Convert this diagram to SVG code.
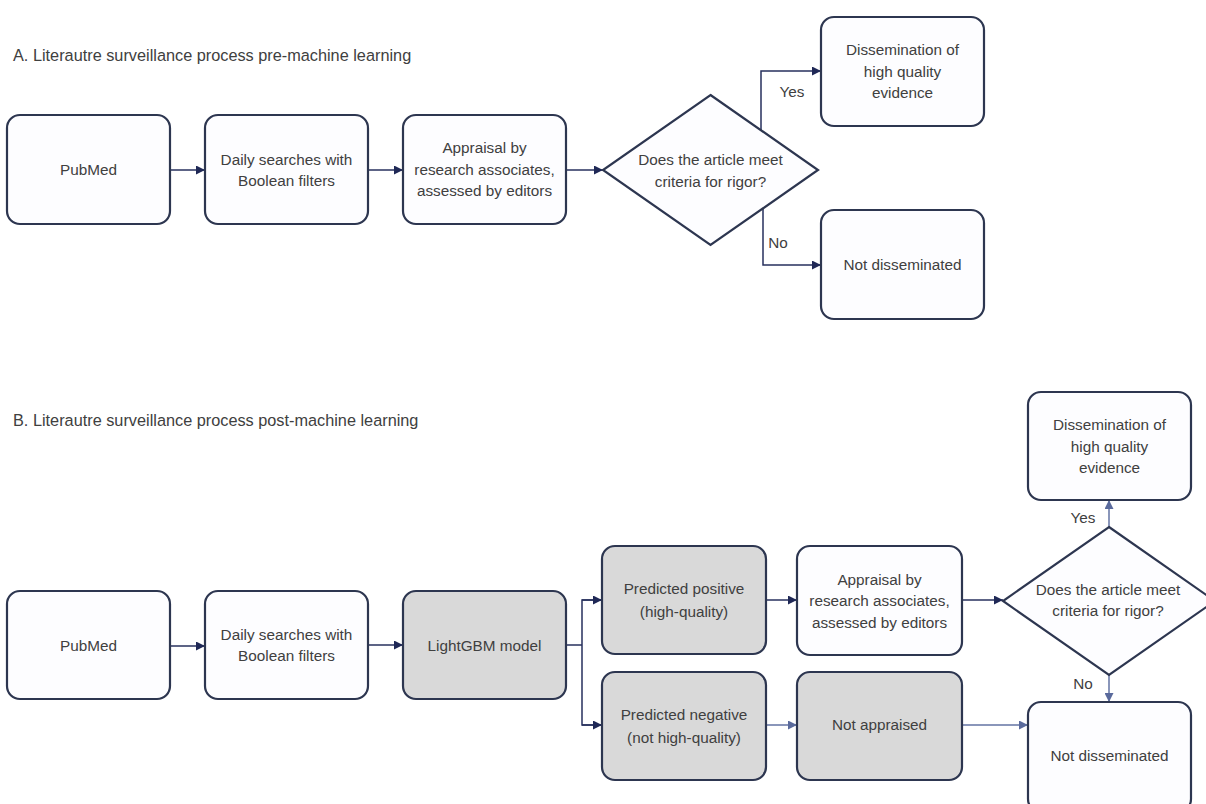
<svg xmlns="http://www.w3.org/2000/svg" width="1206" height="804" viewBox="0 0 1206 804">
<defs>
<style>
.box{fill:#fdfdff;stroke:#2d3650;stroke-width:2.2}
.gray{fill:#d9d9d9;stroke:#2d3650;stroke-width:2.2}
.t{font-family:"Liberation Sans",Arial,sans-serif;font-size:15.3px;fill:#404040;text-anchor:middle}
.title{font-family:"Liberation Sans",Arial,sans-serif;font-size:16.3px;fill:#404040}
.c{fill:none;stroke:#27315e;stroke-width:1.5}
.cl{fill:none;stroke:#6373a3;stroke-width:1.5}
</style>
<marker id="ah" viewBox="0 0 10 10" refX="10" refY="5" markerWidth="9" markerHeight="9" markerUnits="userSpaceOnUse" orient="auto"><path d="M0,0 L10,5 L0,10 Z" fill="#1f2856"/></marker>
<marker id="ahl" viewBox="0 0 10 10" refX="10" refY="5" markerWidth="9" markerHeight="9" markerUnits="userSpaceOnUse" orient="auto"><path d="M0,0 L10,5 L0,10 Z" fill="#5a6a9c"/></marker>
</defs>
<rect width="1206" height="804" fill="#ffffff"/>
<text class="title" x="13" y="61">A. Literautre surveillance process pre-machine learning</text>
<text class="title" x="13" y="426">B. Literautre surveillance process post-machine learning</text>

<g id="connectors">
<path class="c" d="M170,170 H205" marker-end="url(#ah)"/>
<path class="c" d="M368,170 H403" marker-end="url(#ah)"/>
<path class="c" d="M566,170 H603" marker-end="url(#ah)"/>
<path class="c" d="M761,130 V71 H821" marker-end="url(#ah)"/>
<path class="c" d="M763,208 V265 H821" marker-end="url(#ah)"/>
<text class="t" x="792" y="97">Yes</text>
<text class="t" x="778" y="248">No</text>

<path class="c" d="M170,646 H205" marker-end="url(#ah)"/>
<path class="c" d="M368,645 H403" marker-end="url(#ah)"/>
<path class="c" d="M566,645 H582"/>
<path class="c" d="M602,600 H582 V725 H602"/>
<path class="c" d="M582,600 H602" marker-end="url(#ah)"/>
<path class="c" d="M582,725 H602" marker-end="url(#ah)"/>
<path class="c" d="M766,600 H797" marker-end="url(#ah)"/>
<path class="c" d="M962,600 H1003" marker-end="url(#ah)"/>
<path class="cl" d="M1109,527 V500" marker-end="url(#ahl)"/>
<path class="cl" d="M1109,675 V702" marker-end="url(#ahl)"/>
<path class="cl" d="M766,725 H797" marker-end="url(#ahl)"/>
<path class="cl" d="M962,725 H1028" marker-end="url(#ahl)"/>
<text class="t" x="1083" y="523">Yes</text>
<text class="t" x="1083" y="689">No</text>
</g>

<g id="a_pubmed"><rect class="box" x="7" y="115" width="163" height="109" rx="13"/><text class="t" x="88.5" y="175">PubMed</text></g>
<g id="a_daily"><rect class="box" x="205" y="115" width="163" height="109" rx="13"/><text class="t" x="286.5" y="165">Daily searches with</text><text class="t" x="286.5" y="186">Boolean filters</text></g>
<g id="a_appraisal"><rect class="box" x="403" y="115" width="163" height="109" rx="13"/><text class="t" x="484.5" y="153">Appraisal by</text><text class="t" x="484.5" y="175">research associates,</text><text class="t" x="484.5" y="196">assessed by editors</text></g>
<g id="a_decision"><polygon class="box" points="710.5,95 818,170 710.5,245 603,170"/><text class="t" x="710.5" y="165">Does the article meet</text><text class="t" x="710.5" y="187">criteria for rigor?</text></g>
<g id="a_dissem"><rect class="box" x="821" y="17" width="163" height="109" rx="13"/><text class="t" x="902.5" y="55">Dissemination of</text><text class="t" x="902.5" y="77">high quality</text><text class="t" x="902.5" y="98">evidence</text></g>
<g id="a_notdiss"><rect class="box" x="821" y="210" width="163" height="109" rx="13"/><text class="t" x="902.5" y="270">Not disseminated</text></g>

<g id="b_pubmed"><rect class="box" x="7" y="591" width="163" height="108" rx="13"/><text class="t" x="88.5" y="651">PubMed</text></g>
<g id="b_daily"><rect class="box" x="205" y="591" width="163" height="108" rx="13"/><text class="t" x="286.5" y="640">Daily searches with</text><text class="t" x="286.5" y="661">Boolean filters</text></g>
<g id="b_lgbm"><rect class="gray" x="403" y="591" width="163" height="108" rx="13"/><text class="t" x="484.5" y="651">LightGBM model</text></g>
<g id="b_pos"><rect class="gray" x="602" y="546" width="164" height="108" rx="13"/><text class="t" x="684" y="594">Predicted positive</text><text class="t" x="684" y="617">(high-quality)</text></g>
<g id="b_neg"><rect class="gray" x="602" y="672" width="164" height="108" rx="13"/><text class="t" x="684" y="720">Predicted negative</text><text class="t" x="684" y="743">(not high-quality)</text></g>
<g id="b_appraisal"><rect class="box" x="797" y="546" width="165" height="109" rx="13"/><text class="t" x="879.5" y="585">Appraisal by</text><text class="t" x="879.5" y="606">research associates,</text><text class="t" x="879.5" y="628">assessed by editors</text></g>
<g id="b_notappr"><rect class="gray" x="797" y="672" width="165" height="108" rx="13"/><text class="t" x="879.5" y="730">Not appraised</text></g>
<g id="b_decision"><polygon class="box" points="1109,527 1215,601 1109,675 1003,601"/><text class="t" x="1108" y="595">Does the article meet</text><text class="t" x="1108" y="616">criteria for rigor?</text></g>
<g id="b_dissem"><rect class="box" x="1028" y="392" width="163" height="108" rx="13"/><text class="t" x="1109.5" y="430">Dissemination of</text><text class="t" x="1109.5" y="452">high quality</text><text class="t" x="1109.5" y="473">evidence</text></g>
<g id="b_notdiss"><rect class="box" x="1028" y="702" width="163" height="110" rx="13"/><text class="t" x="1109.5" y="761">Not disseminated</text></g>
</svg>
